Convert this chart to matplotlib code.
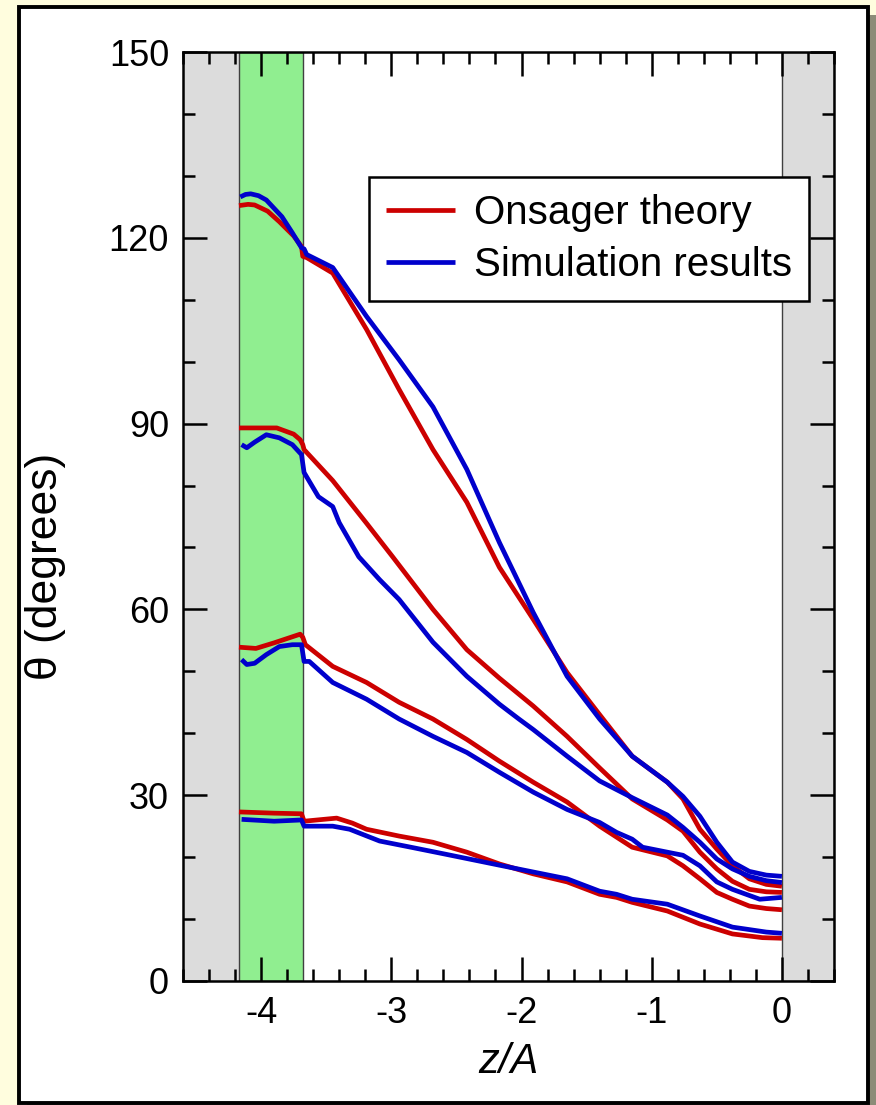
import matplotlib

matplotlib.use("Agg")

import matplotlib.pyplot as plt
from matplotlib.patches import Rectangle
from matplotlib.ticker import MultipleLocator

# data (z/A, theta in degrees)
theory_1_z = [-4.17, -4.10, -4.05, -3.95, -3.86, -3.75, -3.69, -3.68, -3.65, -3.45, -3.19,
              -2.94, -2.68, -2.42, -2.17, -1.91, -1.65, -1.40, -1.15, -0.88, -0.76, -0.63,
              -0.50, -0.38, -0.25, -0.12, 0.0]
theory_1_t = [125.2, 125.4, 125.3, 124.3, 122.6, 120.3, 118.6, 117.0, 116.8, 114.3, 105.2,
              95.5, 85.8, 77.3, 66.8, 58.4, 49.8, 43.0, 36.3, 32.1, 29.4, 24.5,
              21.3, 18.6, 16.5, 15.6, 15.3]
sim_1_z = [-4.16, -4.12, -4.08, -4.02, -3.96, -3.84, -3.76, -3.69, -3.67, -3.65, -3.45, -3.19,
           -2.94, -2.68, -2.42, -2.17, -1.91, -1.65, -1.40, -1.15, -0.88, -0.76, -0.63,
           -0.50, -0.38, -0.25, -0.12, 0.0]
sim_1_t = [126.6, 127.0, 127.1, 126.8, 126.1, 123.4, 120.8, 118.4, 118.2, 117.3, 115.2, 107.3,
           100.3, 92.7, 82.6, 70.8, 59.5, 49.2, 42.3, 36.3, 32.1, 29.8, 26.6,
           22.4, 19.2, 17.7, 17.1, 16.9]

theory_2_z = [-4.17, -3.88, -3.75, -3.70, -3.68, -3.67, -3.45, -3.19, -2.99, -2.68, -2.42,
              -2.17, -1.91, -1.65, -1.40, -1.15, -0.88, -0.76, -0.63, -0.50, -0.38, -0.25,
              -0.12, 0.0]
theory_2_t = [89.3, 89.3, 88.3, 87.4, 86.6, 85.8, 80.8, 73.9, 68.5, 60.0, 53.5,
              48.9, 44.4, 39.5, 34.4, 29.4, 26.0, 24.2, 20.8, 18.1, 16.1, 14.8,
              14.4, 14.3]
sim_2_z = [-4.15, -4.11, -4.05, -3.96, -3.86, -3.76, -3.69, -3.67, -3.56, -3.45, -3.40, -3.25,
           -3.09, -2.94, -2.68, -2.42, -2.17, -2.02, -1.91, -1.65, -1.40, -1.15, -0.88,
           -0.76, -0.63, -0.50, -0.38, -0.25, -0.12, 0.0]
sim_2_t = [86.6, 86.1, 87.0, 88.2, 87.7, 86.6, 85.0, 82.1, 78.2, 76.6, 74.0, 68.5,
           64.8, 61.6, 54.7, 49.2, 44.7, 42.3, 40.6, 36.3, 32.3, 29.6, 26.8,
           24.8, 22.4, 19.7, 18.1, 16.9, 16.2, 15.9]

theory_3_z = [-4.17, -4.04, -3.90, -3.70, -3.68, -3.66, -3.45, -3.19, -2.94, -2.68, -2.42,
              -2.17, -1.91, -1.65, -1.40, -1.15, -0.88, -0.76, -0.63, -0.50, -0.38, -0.25,
              -0.12, 0.0]
theory_3_t = [53.9, 53.7, 54.6, 56.0, 55.5, 54.3, 50.8, 48.2, 45.0, 42.3, 39.0,
              35.5, 32.1, 28.9, 25.0, 21.6, 20.2, 18.6, 16.5, 14.3, 13.2, 12.1,
              11.7, 11.5]
sim_3_z = [-4.15, -4.11, -4.05, -3.96, -3.86, -3.76, -3.69, -3.67, -3.63, -3.45, -3.19,
           -2.94, -2.68, -2.42, -2.17, -1.91, -1.65, -1.40, -1.27, -1.15, -1.07, -0.88,
           -0.76, -0.63, -0.50, -0.38, -0.17, 0.0]
sim_3_t = [51.9, 51.1, 51.3, 52.7, 54.0, 54.3, 54.3, 51.6, 51.6, 48.2, 45.5,
           42.3, 39.5, 36.9, 33.7, 30.5, 27.7, 25.6, 24.0, 22.9, 21.6, 20.8,
           20.3, 18.6, 16.0, 14.8, 13.2, 13.5]

theory_4_z = [-4.17, -3.90, -3.69, -3.67, -3.42, -3.30, -3.19, -2.94, -2.68, -2.42, -2.17,
              -1.91, -1.65, -1.40, -1.27, -1.15, -0.88, -0.63, -0.38, -0.15, 0.0]
theory_4_t = [27.3, 27.1, 27.0, 25.8, 26.3, 25.5, 24.5, 23.4, 22.4, 20.8, 18.9,
              17.3, 16.0, 14.0, 13.5, 12.7, 11.3, 9.2, 7.6, 7.0, 6.9]
sim_4_z = [-4.15, -3.90, -3.69, -3.67, -3.45, -3.32, -3.09, -2.85, -2.59, -2.17, -1.91,
           -1.65, -1.40, -1.27, -1.15, -0.88, -0.63, -0.38, -0.12, 0.0]
sim_4_t = [26.1, 25.8, 26.0, 25.0, 25.0, 24.5, 22.6, 21.6, 20.5, 18.7, 17.6,
           16.5, 14.5, 14.0, 13.2, 12.4, 10.5, 8.7, 7.9, 7.7]

theory = [(theory_1_z, theory_1_t), (theory_2_z, theory_2_t),
          (theory_3_z, theory_3_t), (theory_4_z, theory_4_t)]
simulation = [(sim_1_z, sim_1_t), (sim_2_z, sim_2_t),
              (sim_3_z, sim_3_t), (sim_4_z, sim_4_t)]

wall_left = -4.17
layer_right = -3.68

RED = "#CC0000"
BLUE = "#0000CC"

plt.rcParams["font.family"] = ["Liberation Sans", "DejaVu Sans"]
plt.rcParams["axes.unicode_minus"] = False

W, H = 876, 1105
fig = plt.figure(figsize=(W / 100, H / 100), dpi=100)
fig.patch.set_facecolor("#FFFDDE")

# shadow + white panel
fig.add_artist(Rectangle((27 / W, -6 / H), (868 - 19) / W, (1103 - 7) / H,
                         transform=fig.transFigure, facecolor="#8C8C78",
                         edgecolor="none", zorder=-3))
fig.add_artist(Rectangle((19 / W, 2 / H), (868 - 19) / W, (1103 - 7) / H,
                         transform=fig.transFigure, facecolor="white",
                         edgecolor="black", linewidth=2.8, zorder=-2))

ax = fig.add_axes([183 / W, 1 - 981 / H, (834 - 183) / W, (981 - 52) / H])
ax.set_xlim(-4.6, 0.4)
ax.set_ylim(0, 150)

ax.axvspan(-4.6, wall_left, facecolor="#DCDCDC", edgecolor="none", zorder=0)
ax.axvspan(wall_left, layer_right, facecolor="#90EE90", edgecolor="#404040",
           linewidth=1.0, zorder=0)
ax.axvspan(0, 0.4, facecolor="#DCDCDC", edgecolor="#404040", linewidth=1.0, zorder=0)

for i, (z, t) in enumerate(theory):
    ax.plot(z, t, color=RED, linewidth=3.4, solid_capstyle="butt",
            label="Onsager theory" if i == 0 else None, zorder=2)
for i, (z, t) in enumerate(simulation):
    ax.plot(z, t, color=BLUE, linewidth=3.4, solid_capstyle="butt",
            label="Simulation results" if i == 0 else None, zorder=3)

ax.xaxis.set_major_locator(MultipleLocator(1))
ax.xaxis.set_minor_locator(MultipleLocator(0.2))
ax.yaxis.set_major_locator(MultipleLocator(30))
ax.yaxis.set_minor_locator(MultipleLocator(10))
ax.tick_params(which="both", direction="in", top=True, right=True, width=1.8,
               labelsize=26, colors="black")
ax.tick_params(axis="x", pad=11)
ax.tick_params(axis="y", pad=10)
ax.tick_params(which="major", length=17)
ax.tick_params(which="minor", length=8.5)
for s in ax.spines.values():
    s.set_linewidth(1.8)
    s.set_zorder(5)

ax.set_xlabel("z/A", fontsize=30, style="italic", labelpad=8)
fig.text(45 / W, 1 - 566 / H, "θ (degrees)", fontsize=32, rotation=90,
         ha="center", va="center")

leg = ax.legend(loc="upper right", bbox_to_anchor=(0.962, 0.865), fontsize=29,
                frameon=True, fancybox=False, edgecolor="black", framealpha=1,
                handlelength=1.7, handletextpad=0.48, borderpad=0.42,
                labelspacing=0.35, borderaxespad=0)
leg.get_frame().set_linewidth(1.8)

fig.savefig("out.png", dpi=100, facecolor=fig.get_facecolor())
